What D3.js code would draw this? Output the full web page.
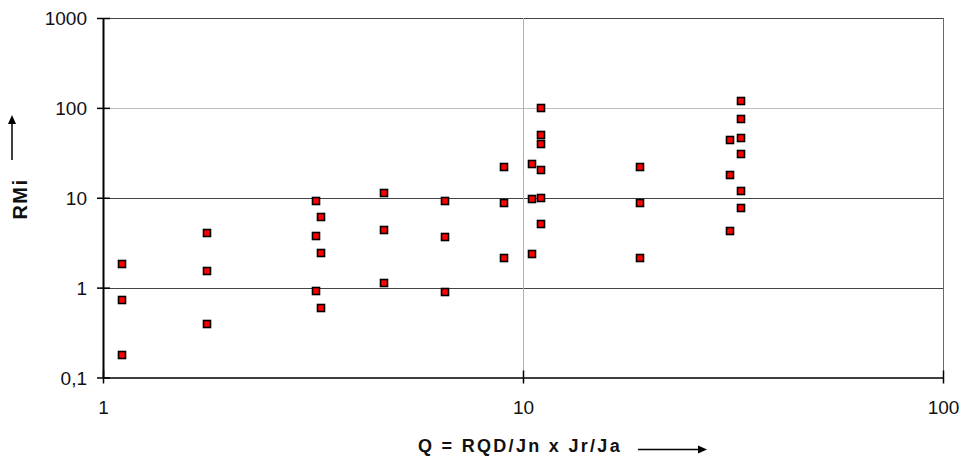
<!DOCTYPE html>
<html lang="en">
<head>
    <meta charset="UTF-8">
    <title>RMi vs Q</title>
    <script type="text/javascript" src="https://cdn.jsdelivr.net/npm/d3@7"></script>
    <style>
        body { margin: 0; background: #fff; }
        svg { display: block; font-family: "Liberation Sans", Arial, sans-serif; }
        .tick-label { font-size: 19px; fill: #111; }
        .axis-title { font-weight: bold; fill: #111; }
        .point { fill: #ff0000; stroke: #000; stroke-width: 1.6; }
    </style>
</head>
<body>
    <svg width="964" height="456"></svg>
    <script type="text/javascript">
        // Q values (x) and RMi values (y)
        var qValues   = [1.11, 1.11, 1.11,
                         1.77, 1.77, 1.77,
                         3.22, 3.22, 3.22,
                         3.30, 3.30, 3.30,
                         4.67, 4.67, 4.67,
                         6.52, 6.52, 6.52,
                         9.01, 9.01, 9.01,
                         10.5, 10.5, 10.5,
                         11.05, 11.05, 11.05, 11.05, 11.05, 11.05,
                         19.0, 19.0, 19.0,
                         31.1, 31.1, 31.1,
                         33.0, 33.0, 33.0, 33.0, 33.0, 33.0];
        var rmiValues = [1.84, 0.73, 0.178,
                         4.03, 1.53, 0.39,
                         9.1, 3.73, 0.91,
                         6.08, 2.44, 0.60,
                         11.2, 4.35, 1.12,
                         9.1, 3.67, 0.90,
                         21.8, 8.8, 2.16,
                         23.8, 9.6, 2.35,
                         100.7, 50.4, 39.3, 20.2, 10.0, 5.17,
                         21.8, 8.8, 2.16,
                         44.3, 17.7, 4.32,
                         120.6, 76, 46.2, 30.6, 11.75, 7.73];

        var xTicks = [1, 10, 100];
        var yTicks = [0.1, 1, 10, 100, 1000];
        var yTickLabels = ["0,1", "1", "10", "100", "1000"];

        var svg = d3.select("svg");
        var plotLeft = 103, plotRight = 943, plotTop = 18, plotBottom = 377.5;

        var x = d3.scaleLog().domain([1, 100]).range([plotLeft, plotRight]);
        var y = d3.scaleLog().domain([0.1, 1000]).range([plotBottom, plotTop]);

        // horizontal grid lines
        var hColors = { 1: "#444", 10: "#444", 100: "#bdbdbd", 1000: "#444" };
        svg.append("g").selectAll("line")
            .data(yTicks.filter(function(d){ return d > 0.1; }))
            .enter().append("line")
            .attr("x1", plotLeft).attr("x2", plotRight)
            .attr("y1", function(d){ return Math.round(y(d)) + 0.5; })
            .attr("y2", function(d){ return Math.round(y(d)) + 0.5; })
            .attr("stroke", function(d){ return hColors[d]; })
            .attr("stroke-width", 1);

        // vertical grid lines
        svg.append("g").selectAll("line")
            .data(xTicks.filter(function(d){ return d > 1; }))
            .enter().append("line")
            .attr("y1", plotTop).attr("y2", plotBottom)
            .attr("x1", function(d){ return Math.round(x(d)) + 0.5; })
            .attr("x2", function(d){ return Math.round(x(d)) + 0.5; })
            .attr("stroke", function(d){ return d == 10 ? "#b0b0b0" : "#6a6a6a"; })
            .attr("stroke-width", 1);

        // axes
        var yAxis = d3.axisLeft(y).tickValues(yTicks).tickSize(0).tickFormat("");
        var xAxis = d3.axisBottom(x).tickValues(xTicks).tickSize(0).tickFormat("");

        var gy = svg.append("g").attr("transform", "translate(" + plotLeft + ",0)").call(yAxis);
        gy.select(".domain").attr("stroke", "#000").attr("stroke-width", 2);
        gy.selectAll(".tick line").remove();
        gy.selectAll(".tick").append("line")
            .attr("x1", -6).attr("x2", 7)
            .attr("stroke", "#000").attr("stroke-width", 1.5);
        gy.selectAll(".tick text").remove();
        gy.selectAll(".tick").append("text")
            .attr("class", "tick-label")
            .attr("x", -16).attr("dy", "0.35em")
            .attr("text-anchor", "end")
            .text(function(d, i){ return yTickLabels[i]; });

        var gx = svg.append("g").attr("transform", "translate(0," + plotBottom + ")").call(xAxis);
        gx.select(".domain").attr("stroke", "#000").attr("stroke-width", 1.5);
        gx.selectAll(".tick").append("line")
            .attr("y1", -7).attr("y2", 6)
            .attr("stroke", "#000").attr("stroke-width", 1.5);
        gx.selectAll(".tick text").remove();
        gx.selectAll(".tick").append("text")
            .attr("class", "tick-label")
            .attr("y", 36)
            .attr("text-anchor", "middle")
            .text(function(d){ return d; });

        // points
        var points = qValues.map(function(q, i){ return { q: q, r: rmiValues[i] }; });
        svg.append("g").selectAll(".point")
            .data(points)
            .enter().append("rect")
            .attr("class", "point")
            .attr("x", function(d){ return Math.round(x(d.q)) - 3.5; })
            .attr("y", function(d){ return Math.round(y(d.r)) - 3.5; })
            .attr("width", 7)
            .attr("height", 7);

        // axis titles
        svg.append("text")
            .attr("class", "axis-title")
            .attr("x", 418).attr("y", 452)
            .style("font-size", "18px").style("letter-spacing", "2.3px")
            .text("Q = RQD/Jn x Jr/Ja");

        svg.append("text")
            .attr("class", "axis-title")
            .attr("transform", "translate(27,199) rotate(-90)")
            .attr("text-anchor", "middle")
            .style("font-size", "20px").style("letter-spacing", "1.5px")
            .text("RMi");

        // arrows next to titles
        svg.append("line")
            .attr("x1", 638).attr("x2", 700).attr("y1", 449.5).attr("y2", 449.5)
            .attr("stroke", "#000").attr("stroke-width", 1.5);
        svg.append("path")
            .attr("d", "M707,449.5 L698,445.5 L698,453.5 Z")
            .attr("fill", "#000");

        svg.append("line")
            .attr("x1", 12).attr("x2", 12).attr("y1", 160).attr("y2", 122)
            .attr("stroke", "#000").attr("stroke-width", 1.5);
        svg.append("path")
            .attr("d", "M12,115 L8,124 L16,124 Z")
            .attr("fill", "#000");
    </script>
</body>
</html>
